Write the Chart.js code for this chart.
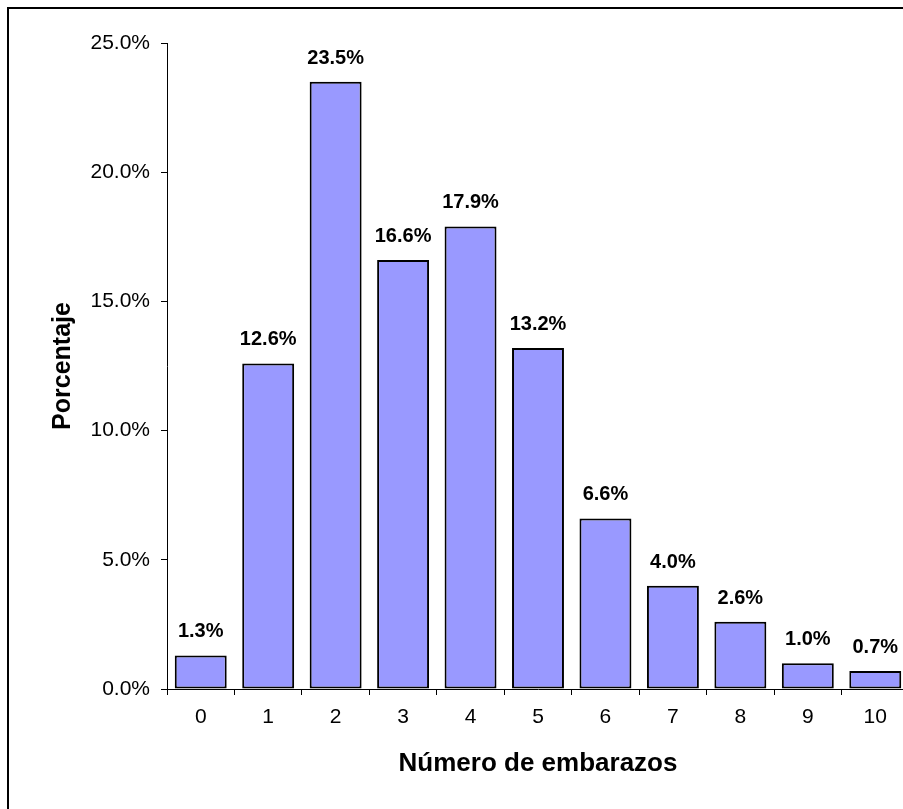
<!DOCTYPE html>
<html>
<head>
<meta charset="utf-8">
<script src="https://cdn.jsdelivr.net/npm/chart.js@4/dist/chart.umd.min.js"></script>
<style>
  html, body { margin: 0; padding: 0; background: #fff; overflow: hidden; width: 903px; height: 809px; }
  #frame { position: absolute; left: 7px; top: 7px; width: 940px; height: 840px;
           border-left: 2px solid #000; border-top: 2px solid #000; }
  #c { position: absolute; left: 0; top: 0; }
</style>
</head>
<body>
<div id="frame"></div>
<canvas id="c" width="920" height="809"></canvas>
<script>
// Number of pregnancies and share of women (%)
const categories = ['0', '1', '2', '3', '4', '5', '6', '7', '8', '9', '10'];
const percentages = [1.3, 12.6, 23.5, 16.6, 17.9, 13.2, 6.6, 4.0, 2.6, 1.0, 0.7];
const yMax = 25;
const yStep = 5;
const xTitle = 'Número de embarazos';
const yTitle = 'Porcentaje';

const FONT = '"Liberation Sans", Arial, sans-serif';

// Bold value labels above each bar
const valueLabels = {
  id: 'valueLabels',
  afterDatasetsDraw(chart) {
    const ctx = chart.ctx;
    const meta = chart.getDatasetMeta(0);
    ctx.save();
    ctx.font = 'bold 20px ' + FONT;
    ctx.fillStyle = '#000';
    ctx.textAlign = 'center';
    ctx.textBaseline = 'alphabetic';
    meta.data.forEach((bar, i) => {
      const v = chart.data.datasets[0].data[i];
      ctx.fillText(v.toFixed(1) + '%', bar.x, bar.y - 18);
    });
    ctx.restore();
  }
};

new Chart(document.getElementById('c'), {
  type: 'bar',
  data: {
    labels: categories,
    datasets: [{
      data: percentages,
      backgroundColor: '#9999FF',
      borderColor: '#000000',
      borderWidth: 2,
      borderSkipped: false,
      categoryPercentage: 1.0,
      barPercentage: 0.77
    }]
  },
  options: {
    responsive: false,
    devicePixelRatio: 1,
    animation: false,
    layout: { padding: { top: 43, right: 11, bottom: 0, left: 0 } },
    plugins: {
      legend: { display: false },
      tooltip: { enabled: false }
    },
    scales: {
      x: {
        grid: { display: true, drawOnChartArea: false, drawTicks: true, tickLength: 6, color: '#000', offset: true },
        border: { display: true, color: '#000', width: 1 },
        ticks: { color: '#000', font: { family: FONT, size: 21 }, padding: 10, maxRotation: 0 },
        title: { display: true, text: xTitle, color: '#000', font: { family: FONT, size: 26, weight: 'bold' }, padding: { top: 0, bottom: 30 } },
        afterFit(scale) { scale.height = 120; }
      },
      y: {
        min: 0,
        max: yMax,
        grid: { display: true, drawOnChartArea: false, drawTicks: true, tickLength: 6, color: '#000' },
        border: { display: true, color: '#000', width: 1 },
        ticks: {
          stepSize: yStep,
          color: '#000',
          font: { family: FONT, size: 21 },
          padding: 11,
          callback: v => Number(v).toFixed(1) + '%'
        },
        title: { display: true, text: yTitle, color: '#000', font: { family: FONT, size: 25, weight: 'bold' }, padding: { top: 48, bottom: 0 } },
        afterFit(scale) { scale.width = 167; }
      }
    }
  },
  plugins: [valueLabels]
});
</script>
</body>
</html>
